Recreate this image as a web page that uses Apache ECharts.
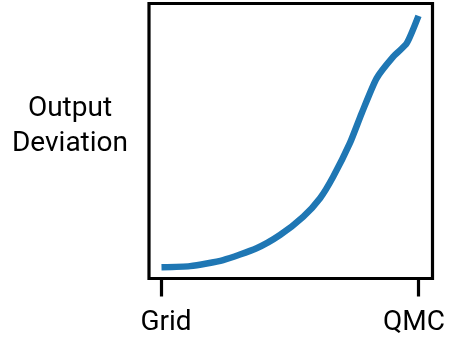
<!DOCTYPE html>
<html>
<head>
<meta charset="utf-8">
<script src="https://cdn.jsdelivr.net/npm/echarts@6/dist/echarts.min.js"></script>
<style>html,body{margin:0;padding:0;background:#fff}#c{width:450px;height:337px}</style>
</head>
<body>
<div id="c"></div>
<script>
var xValues = [0, 0.111, 0.240, 0.370, 0.461, 0.552, 0.617, 0.668, 0.733, 0.779, 0.837, 0.902, 0.954, 1];
var yValues = [0.041, 0.045, 0.067, 0.110, 0.158, 0.225, 0.292, 0.370, 0.492, 0.601, 0.728, 0.807, 0.855, 0.955];
var tickValues = [0, 1];
var tickLabels = ['Grid', 'QMC'];
var yNameLines = ['Output', 'Deviation'];

var data = xValues.map(function (x, i) { return [x, yValues[i]]; });
var FONT = 'Roboto';
var FS = 28;
var chart = echarts.init(document.getElementById('c'));
chart.setOption({
  animation: false,
  grid: { left: 149, right: 17.5, top: 3.5, bottom: 58.5, show: true, borderColor: '#000', borderWidth: 3.2, backgroundColor: 'transparent' },
  xAxis: {
    type: 'value', min: -0.0486, max: 1.0545,
    axisLine: { show: false },
    splitLine: { show: false },
    axisTick: { show: true, customValues: tickValues, length: 18, lineStyle: { color: '#000', width: 3.2 } },
    axisLabel: {
      customValues: tickValues, margin: 30, color: '#000', fontFamily: FONT, fontSize: FS,
      formatter: function (v) {
        var i = tickValues.indexOf(v);
        return i === 0 ? '{l|' + tickLabels[i] + '}' : '{r|' + tickLabels[i] + '}';
      },
      rich: {
        l: { fontFamily: FONT, fontSize: FS, color: '#000', padding: [0, 0, 0, 9] },
        r: { fontFamily: FONT, fontSize: FS, color: '#000', padding: [0, 9, 0, 0] }
      }
    }
  },
  yAxis: {
    type: 'value', min: 0, max: 1,
    axisLine: { show: false }, axisTick: { show: false }, axisLabel: { show: false }, splitLine: { show: false },
    name: '{n|' + yNameLines[0] + '}\n{n|' + yNameLines[1] + '}\n{g| }',
    nameLocation: 'middle', nameRotate: 0, nameGap: 79,
    nameTextStyle: {
      fontFamily: FONT, fontSize: FS, color: '#000', align: 'center',
      rich: {
        n: { fontFamily: FONT, fontSize: FS, color: '#000', lineHeight: 35, align: 'center' },
        g: { fontSize: 4, lineHeight: 30 }
      }
    }
  },
  series: [{
    type: 'line', data: data, symbol: 'none', smooth: 0.2,
    lineStyle: { color: '#1f77b4', width: 6.5 }
  }]
});
</script>
</body>
</html>
